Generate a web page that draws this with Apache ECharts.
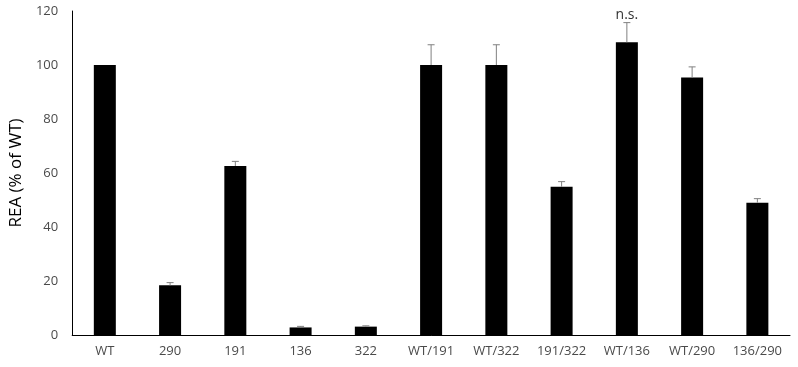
<!DOCTYPE html>
<html><head><meta charset="utf-8">
<script src="https://cdn.jsdelivr.net/npm/echarts@6/dist/echarts.min.js"></script>
<style>html,body{margin:0;padding:0;background:#fff}#c{width:798px;height:367px}</style>
</head><body><div id="c"></div>
<script>
const categories = ['WT','290','191','136','322','WT/191','WT/322','191/322','WT/136','WT/290','136/290'];
const values = [100, 18.4, 62.6, 2.8, 3.1, 100, 100, 54.9, 108.4, 95.4, 49.0];
const errorTops = [100, 19.4, 64.3, 3.2, 3.4, 107.5, 107.5, 56.8, 115.7, 99.3, 50.5];
const annotations = ['', '', '', '', '', '', '', '', 'n.s.', '', ''];
const yTicks = [0, 20, 40, 60, 80, 100, 120];

const chart = echarts.init(document.getElementById('c'));
const font = '"Open Sans", sans-serif';
chart.setOption({
  animation: false,
  grid: {left: 67, right: 8, top: 11, bottom: 32},
  xAxis: {
    type: 'category', data: categories,
    axisLine: {lineStyle: {color: '#000', width: 1}},
    axisTick: {show: false},
    axisLabel: {color: '#4a4a4a', fontSize: 13, fontFamily: font, margin: 10}
  },
  yAxis: {
    type: 'value', min: yTicks[0], max: yTicks[yTicks.length-1], interval: 20,
    name: 'REA (% of WT)', nameLocation: 'middle', nameGap: 42, nameRotate: 90,
    nameTextStyle: {color: '#000', fontSize: 17, fontFamily: font},
    axisLine: {show: true, lineStyle: {color: '#000', width: 1}},
    axisTick: {show: false},
    splitLine: {show: false},
    axisLabel: {color: '#4a4a4a', fontSize: 13, fontFamily: font, margin: 14}
  },
  series: [
    {type: 'bar', data: values, barWidth: 22, itemStyle: {color: '#000'}},
    {
      type: 'custom',
      data: categories.map((c, i) => [i, values[i], errorTops[i], annotations[i]]),
      renderItem: function (params, api) {
        const i = api.value(0);
        const base = api.coord([i, api.value(1)]);
        const top = api.coord([i, api.value(2)]);
        const children = [];
        if (Math.abs(top[1] - base[1]) > 0.5) {
          children.push({type: 'line', shape: {x1: base[0], y1: base[1], x2: top[0], y2: top[1]}, style: {stroke: '#808080', lineWidth: 1}});
          children.push({type: 'line', shape: {x1: top[0]-3.5, y1: top[1], x2: top[0]+3.5, y2: top[1]}, style: {stroke: '#808080', lineWidth: 1}});
        }
        const txt = annotations[params.dataIndex];
        if (txt) {
          children.push({type: 'text', x: top[0], y: top[1] - 1, style: {text: txt, fill: '#333', font: '14px ' + font, align: 'center', verticalAlign: 'bottom'}});
        }
        return {type: 'group', children: children};
      },
      z: 5
    }
  ]
});
</script></body></html>
